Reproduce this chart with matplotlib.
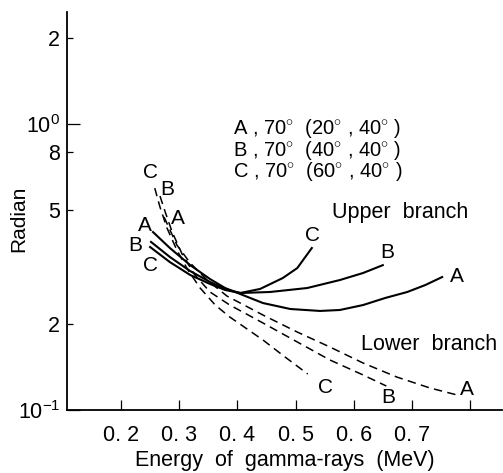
import numpy as np
import matplotlib
matplotlib.use("Agg")
import matplotlib.pyplot as plt

plt.rcParams['font.family'] = ['Liberation Sans', 'DejaVu Sans']
plt.rcParams['mathtext.fontset'] = 'custom'
plt.rcParams['mathtext.rm'] = 'Liberation Sans'
plt.rcParams['mathtext.it'] = 'Liberation Sans'

# upper branch (solid)
xA_up = [0.255, 0.284, 0.319, 0.353, 0.379, 0.405, 0.444, 0.491, 0.542, 0.576, 0.616, 0.654, 0.692, 0.723, 0.752]
yA_up = [0.419, 0.3685, 0.321, 0.287, 0.267, 0.2544, 0.2366, 0.2255, 0.222, 0.2237, 0.2328, 0.2464, 0.2586, 0.2735, 0.2917]
xB_up = [0.2516, 0.284, 0.319, 0.353, 0.379, 0.405, 0.456, 0.520, 0.576, 0.616, 0.650]
yB_up = [0.387, 0.3428, 0.306, 0.2803, 0.265, 0.2565, 0.2586, 0.267, 0.2847, 0.3013, 0.321]
xC_up = [0.250, 0.284, 0.319, 0.353, 0.379, 0.405, 0.439, 0.478, 0.503, 0.513, 0.528]
yC_up = [0.3715, 0.329, 0.2965, 0.2759, 0.2628, 0.2565, 0.265, 0.2893, 0.3136, 0.3345, 0.3685]

# lower branch (dashed)
xA_lo = [0.274, 0.296, 0.319, 0.348, 0.382, 0.444, 0.503, 0.559, 0.616, 0.674, 0.731, 0.778]
yA_lo = [0.473, 0.3775, 0.3266, 0.2847, 0.2504, 0.2148, 0.1873, 0.1661, 0.146, 0.1304, 0.1194, 0.1128]
xB_lo = [0.267, 0.276, 0.288, 0.305, 0.327, 0.353, 0.387, 0.444, 0.503, 0.559, 0.616, 0.656]
yB_lo = [0.560, 0.4925, 0.419, 0.351, 0.2965, 0.2586, 0.2328, 0.2015, 0.1729, 0.1496, 0.1326, 0.1213]
xC_lo = [0.258, 0.267, 0.279, 0.296, 0.315, 0.336, 0.362, 0.387, 0.444, 0.482, 0.521]
yC_lo = [0.597, 0.5126, 0.433, 0.3625, 0.3088, 0.267, 0.2328, 0.2114, 0.1757, 0.1532, 0.1336]

xticks = [0.2, 0.3, 0.4, 0.5, 0.6, 0.7, 0.8]
xticklabels = ['0. 2', '0. 3', '0. 4', '0. 5', '0. 6', '0. 7', '']

legend_lines = ['A , 70$^{\\circ}$  (20$^{\\circ}$ , 40$^{\\circ}$ )',
                'B , 70$^{\\circ}$  (40$^{\\circ}$ , 40$^{\\circ}$ )',
                'C , 70$^{\\circ}$  (60$^{\\circ}$ , 40$^{\\circ}$ )']

fig = plt.figure(figsize=(5.03, 4.73), dpi=100)
ax = fig.add_axes([0.1332, 0.1332, 0.865, 0.8414])

solid = dict(color='black', lw=1.5)
dashed = dict(color='black', lw=1.1, dashes=(5.5, 3.5))
ax.plot(xA_up, yA_up, **solid)
ax.plot(xB_up, yB_up, **solid)
ax.plot(xC_up, yC_up, **solid)
ax.plot(xA_lo, yA_lo, **dashed)
ax.plot(xB_lo, yB_lo, **dashed)
ax.plot(xC_lo, yC_lo, **dashed)

ax.set_yscale('log')
ax.set_xlim(0.1072, 0.855)
ax.set_ylim(0.1, 2.464)

for s in ['top', 'right']:
    ax.spines[s].set_visible(False)
ax.spines['left'].set_linewidth(1.3)
ax.spines['bottom'].set_linewidth(1.3)

ax.set_xticks(xticks, xticklabels, fontsize=15.5)
ax.tick_params(axis='x', direction='in', length=7, width=0.9, pad=11)
ax.set_yticks([0.1, 1], [r'$10^{-1}$', r'$10^{0}$'])
ax.set_yticks([0.2, 0.5, 0.8, 2], ['2', '5', '8', '2'], minor=True)
ax.tick_params(axis='y', which='major', direction='in', length=9, width=0.9, pad=5, labelsize=15.5)
ax.tick_params(axis='y', which='minor', direction='in', length=4.5, width=0.9, pad=5, labelsize=15.5)

ax.set_xlabel('Energy  of  gamma-rays  (MeV)', fontsize=15.5, labelpad=3)
ax.set_ylabel('Radian', fontsize=15)
ax.yaxis.set_label_coords(-0.09, 0.48)

fs = 15
# curve labels
ax.text(0.241, 0.443, 'A', fontsize=fs, ha='center', va='center')
ax.text(0.224, 0.3775, 'B', fontsize=fs, ha='center', va='center')
ax.text(0.250, 0.321, 'C', fontsize=fs, ha='center', va='center')
ax.text(0.250, 0.679, 'C', fontsize=fs, ha='center', va='center')
ax.text(0.279, 0.588, 'B', fontsize=fs, ha='center', va='center')
ax.text(0.298, 0.469, 'A', fontsize=fs, ha='center', va='center')
ax.text(0.530, 0.409, 'C', fontsize=fs, ha='center', va='center')
ax.text(0.657, 0.3565, 'B', fontsize=fs, ha='center', va='center')
ax.text(0.778, 0.294, 'A', fontsize=fs, ha='center', va='center')
ax.text(0.551, 0.1203, 'C', fontsize=fs, ha='center', va='center')
ax.text(0.659, 0.111, 'B', fontsize=fs, ha='center', va='center')
ax.text(0.795, 0.1175, 'A', fontsize=fs, ha='center', va='center')

for txt, yv in zip(legend_lines, [0.968, 0.811, 0.680]):
    ax.text(0.3925, yv, txt, fontsize=14.5, ha='left', va='center')
ax.text(0.68, 0.49, 'Upper  branch', fontsize=15.5, ha='center', va='center')
ax.text(0.73, 0.169, 'Lower  branch', fontsize=15.5, ha='center', va='center')

plt.savefig('out.png', dpi=100)
